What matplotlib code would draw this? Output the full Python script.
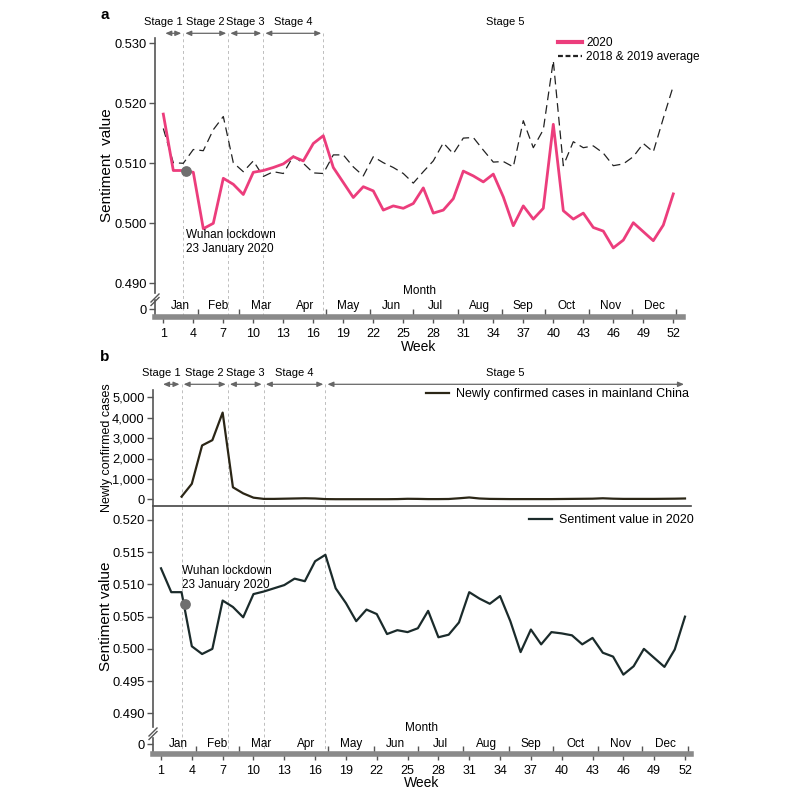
import numpy as np
import matplotlib
matplotlib.use('Agg')
import matplotlib.pyplot as plt
import matplotlib.transforms as mtransforms
from matplotlib.lines import Line2D

plt.rcParams['font.family'] = ['Liberation Sans', 'DejaVu Sans']

# ---- data ----
weeks = np.arange(1, 53)
sent_2020 = [0.5182, 0.5088, 0.5088, 0.5085, 0.4991, 0.5000, 0.5075, 0.5065, 0.5048, 0.5085,
             0.5088, 0.5093, 0.5099, 0.5111, 0.5104, 0.5133, 0.5146, 0.5093, 0.5068, 0.5043,
             0.5061, 0.5054, 0.5022, 0.5029, 0.5025, 0.5033, 0.5059, 0.5017, 0.5022, 0.5041,
             0.5087, 0.5079, 0.5069, 0.5082, 0.5044, 0.4996, 0.5029, 0.5007, 0.5025, 0.5165,
             0.5021, 0.5007, 0.5017, 0.4993, 0.4987, 0.4959, 0.4972, 0.5001, 0.4986, 0.4971,
             0.4997, 0.5049]
sent_1819 = [0.5158, 0.5101, 0.5100, 0.5123, 0.5121, 0.5156, 0.5178, 0.5101, 0.5086, 0.5104,
             0.5078, 0.5086, 0.5083, 0.5112, 0.5100, 0.5084, 0.5083, 0.5114, 0.5114, 0.5094,
             0.5079, 0.5111, 0.5101, 0.5093, 0.5083, 0.5067, 0.5086, 0.5104, 0.5134, 0.5116,
             0.5142, 0.5143, 0.5122, 0.5102, 0.5103, 0.5094, 0.5171, 0.5126, 0.5156, 0.5271,
             0.5096, 0.5136, 0.5126, 0.5129, 0.5117, 0.5096, 0.5099, 0.5111, 0.5133, 0.5119,
             0.5175, 0.5229]
sent_2020_b = [0.5125, 0.5088, 0.5088, 0.5004, 0.4992, 0.5000, 0.5075, 0.5065, 0.5049, 0.5085,
               0.5089, 0.5094, 0.5099, 0.5109, 0.5105, 0.5136, 0.5146, 0.5094, 0.5071, 0.5043,
               0.5061, 0.5054, 0.5023, 0.5029, 0.5026, 0.5032, 0.5059, 0.5018, 0.5022, 0.5041,
               0.5088, 0.5078, 0.5070, 0.5082, 0.5043, 0.4995, 0.5030, 0.5007, 0.5026, 0.5024,
               0.5021, 0.5007, 0.5017, 0.4994, 0.4988, 0.4960, 0.4973, 0.5000, 0.4986, 0.4972,
               0.4999, 0.5050]
case_weeks = np.arange(3, 53)
cases = [130, 760, 2640, 2900, 4250, 590, 290, 80, 20, 20,
         30, 40, 50, 40, 10, 5, 5, 5, 5, 5,
         5, 10, 25, 20, 10, 10, 15, 50, 90, 40,
         20, 15, 10, 10, 10, 10, 10, 15, 20, 25,
         30, 50, 30, 20, 20, 20, 20, 25, 30, 40]
month_names = ['Jan', 'Feb', 'Mar', 'Apr', 'May', 'Jun', 'Jul', 'Aug', 'Sep', 'Oct', 'Nov', 'Dec']
month_days = [31, 29, 31, 30, 31, 30, 31, 31, 30, 31, 30, 31]
stage_names = ['Stage 1', 'Stage 2', 'Stage 3', 'Stage 4', 'Stage 5']
stage_edges = [1.0, 3.0, 7.5, 11.0, 17.0]
lockdown_week = 3.3
lockdown_b = 0.5070

PINK = '#ec3d7c'
GREY = '#555555'
W, H = 800, 792

fig = plt.figure(figsize=(8, 7.92), dpi=100)


def add_ax(left, top, right, bottom):
    return fig.add_axes([left / W, 1 - bottom / H, (right - left) / W, (bottom - top) / H])


def lim(p0, p1, pa, va, pb, vb):
    k = (vb - va) / (pb - pa)
    return va + (p0 - pa) * k, va + (p1 - pa) * k


def fline(xs, ys, **kw):
    fig.add_artist(Line2D([x / W for x in xs], [1 - y / H for y in ys], **kw))


month_bounds = np.cumsum(month_days) / 7.0
month_mid = (np.concatenate([[1.0], month_bounds[:-1]]) + month_bounds) / 2


def style_left(ax):
    for s in ['top', 'right', 'bottom']:
        ax.spines[s].set_visible(False)
    ax.spines['left'].set_color(GREY)
    ax.spines['left'].set_linewidth(1.2)
    ax.tick_params(axis='y', colors=GREY, labelcolor='black', labelsize=9.3, length=4, width=1, pad=2)
    ax.set_xticks([])
    ax.patch.set_alpha(0)


def bottom_axis(left, right, top, zero, bar, xl, month_y, monthlab_y, week_y):
    axb = add_ax(left, top, right, bar)
    axb.set_xlim(xl)
    axb.set_ylim(-(bar - zero), zero - top)
    for s in ['top', 'right']:
        axb.spines[s].set_visible(False)
    axb.spines['left'].set_color(GREY)
    axb.spines['left'].set_linewidth(1.2)
    axb.spines['bottom'].set_color('#8a8a8a')
    axb.spines['bottom'].set_linewidth(4)
    axb.set_yticks([0])
    axb.set_yticklabels(['0'])
    axb.tick_params(axis='y', colors=GREY, labelcolor='black', labelsize=9.3, length=4, width=1, pad=2)
    axb.set_xticks(np.arange(1, 53, 3))
    axb.set_xticks(month_bounds, minor=True)
    axb.tick_params(axis='x', which='major', direction='out', length=4, width=1, colors=GREY,
                    labelcolor='black', labelsize=9, pad=4)
    axb.tick_params(axis='x', which='minor', direction='in', length=6, width=1, colors=GREY)
    axb.patch.set_alpha(0)
    tr = mtransforms.blended_transform_factory(axb.transData, fig.transFigure)
    for m, name in zip(month_mid, month_names):
        axb.text(m, 1 - month_y / H, name, transform=tr, ha='center', va='center', fontsize=8.5)
    mid = (left + right) / 2
    fig.text(mid / W, 1 - monthlab_y / H, 'Month', ha='center', va='center', fontsize=8.5)
    fig.text(mid / W, 1 - week_y / H, 'Week', ha='center', va='center', fontsize=10)
    return axb


def stages(left, right, top, bottom, xl, arrow_y, text_y, end):
    ov = add_ax(left, top, right, bottom)
    ov.set_xlim(xl)
    ov.set_ylim(bottom, top)
    ov.axis('off')
    ov.set_zorder(0)
    ov.vlines(stage_edges[1:], arrow_y, bottom, colors='#bdbdbd', linestyles=(0, (3, 3)), linewidth=0.7)
    edges = stage_edges + [end]
    for i, name in enumerate(stage_names):
        x0, x1 = edges[i] + 0.2, edges[i + 1] - 0.2
        ov.annotate('', xy=(x1, arrow_y), xytext=(x0, arrow_y),
                    arrowprops=dict(arrowstyle='<|-|>,head_length=0.35,head_width=0.15',
                                    color='#666666', lw=0.9, shrinkA=0, shrinkB=0))
        if i == 0:
            ov.text(x1 + 0.1, text_y, name, ha='right', va='center', fontsize=8)
        else:
            ov.text((x0 + x1) / 2, text_y, name, ha='center', va='center', fontsize=8)
    return ov


# ================= panel a =================
xl_a = lim(155, 683, 163.3, 1, 673.3, 52)
stages(155, 683, 10, 316, xl_a, 33.3, 21.7, 53.3)

ax_a = add_ax(155, 38, 683, 293)
ax_a.set_zorder(2)
ax_a.set_xlim(xl_a)
ax_a.set_ylim(lim(293, 38, 43.3, 0.530, 283.3, 0.490))
style_left(ax_a)
ax_a.set_yticks([0.490, 0.500, 0.510, 0.520, 0.530])
ax_a.set_yticklabels(['0.490', '0.500', '0.510', '0.520', '0.530'])
ax_a.plot(weeks, sent_2020, color=PINK, lw=2.0, zorder=3)
ax_a.plot(weeks, sent_1819, color='#222222', lw=0.9, dashes=(7, 4), zorder=2)
ax_a.scatter([lockdown_week], [np.interp(lockdown_week, weeks, sent_2020)], s=45,
             color='#6f6f6f', zorder=5)
ax_a.text(np.interp(186, [163.3, 673.3], [1, 52]), 0.4969, 'Wuhan lockdown\n23 January 2020',
          fontsize=8.5, ha='left', va='center', linespacing=1.15)
ax_a.set_ylabel('Sentiment  value', fontsize=11)
ax_a.yaxis.set_label_coords(-(155 - 114) / 528, 0.5)
h1 = Line2D([], [], color=PINK, lw=3)
h2 = Line2D([], [], color='#222222', lw=1.6, dashes=(2.2, 1.2))
ax_a.legend([h1, h2], ['2020', '2018 & 2019 average'], loc='upper right', frameon=False,
            fontsize=8.6, handlelength=2.0, handletextpad=0.4, labelspacing=0.15,
            borderaxespad=0, borderpad=0,
            bbox_to_anchor=(700 / W, 1 - 37 / H), bbox_transform=fig.transFigure)

bottom_axis(155, 683, 300, 309, 316.5, xl_a, 306, 291, 347)
fline([151, 159], [302, 294], color=GREY, lw=1)
fline([151, 159], [305.5, 297.5], color=GREY, lw=1)

fig.text(105 / W, 1 - 15 / H, 'a', fontsize=11, fontweight='bold', ha='center', va='center')

# ================= panel b =================
xl_b = lim(153, 691, 161, 1, 685, 52)
stages(153, 691, 360, 754, xl_b, 384.3, 373.3, 52.1)

ax_c = add_ax(153, 390, 691, 506)
ax_c.set_zorder(2)
ax_c.set_xlim(xl_b)
ax_c.set_ylim(lim(506, 390, 499.3, 0, 397.3, 5000))
style_left(ax_c)
ax_c.spines['bottom'].set_visible(True)
ax_c.spines['bottom'].set_color('#444444')
ax_c.spines['bottom'].set_linewidth(1.2)
ax_c.set_yticks([0, 1000, 2000, 3000, 4000, 5000])
ax_c.set_yticklabels(['0', '1,000', '2,000', '3,000', '4,000', '5,000'])
ax_c.plot(case_weeks, cases, color='#2b2616', lw=1.6, label='Newly confirmed cases in mainland China')
ax_c.set_ylabel('Newly confirmed cases', fontsize=9)
ax_c.yaxis.set_label_coords(-(153 - 113) / 538, 0.5)
ax_c.legend(loc='upper right', frameon=False, fontsize=9, handlelength=1.8, handletextpad=0.6,
            borderaxespad=0, borderpad=0,
            bbox_to_anchor=(689 / W, 1 - 388 / H), bbox_transform=fig.transFigure)

ax_s = add_ax(153, 506, 691, 727)
ax_s.set_zorder(2)
ax_s.set_xlim(xl_b)
ax_s.set_ylim(lim(727, 506, 520, 0.520, 713.3, 0.490))
style_left(ax_s)
ax_s.set_yticks([0.490, 0.495, 0.500, 0.505, 0.510, 0.515, 0.520])
ax_s.set_yticklabels(['0.490', '0.495', '0.500', '0.505', '0.510', '0.515', '0.520'])
ax_s.plot(weeks, sent_2020_b, color='#1b2b2b', lw=1.6, label='Sentiment value in 2020')
ax_s.scatter([lockdown_week], [lockdown_b], s=45, color='#6f6f6f', zorder=5)
ax_s.text(np.interp(182, [161, 685], [1, 52]), 0.5110, 'Wuhan lockdown\n23 January 2020',
          fontsize=8.5, ha='left', va='center', linespacing=1.15)
ax_s.set_ylabel('Sentiment value', fontsize=11)
ax_s.yaxis.set_label_coords(-(153 - 113) / 538, 0.5)
ax_s.legend(loc='upper right', frameon=False, fontsize=9, handlelength=1.8, handletextpad=0.6,
            borderaxespad=0, borderpad=0,
            bbox_to_anchor=(694 / W, 1 - 514 / H), bbox_transform=fig.transFigure)

bottom_axis(153, 691, 738, 744.3, 754, xl_b, 744, 728, 783)
fline([149, 157], [736, 728], color=GREY, lw=1)
fline([149, 157], [739.5, 731.5], color=GREY, lw=1)

fig.text(105 / W, 1 - 357 / H, 'b', fontsize=11, fontweight='bold', ha='center', va='center')

fig.savefig('out.png', dpi=100)
